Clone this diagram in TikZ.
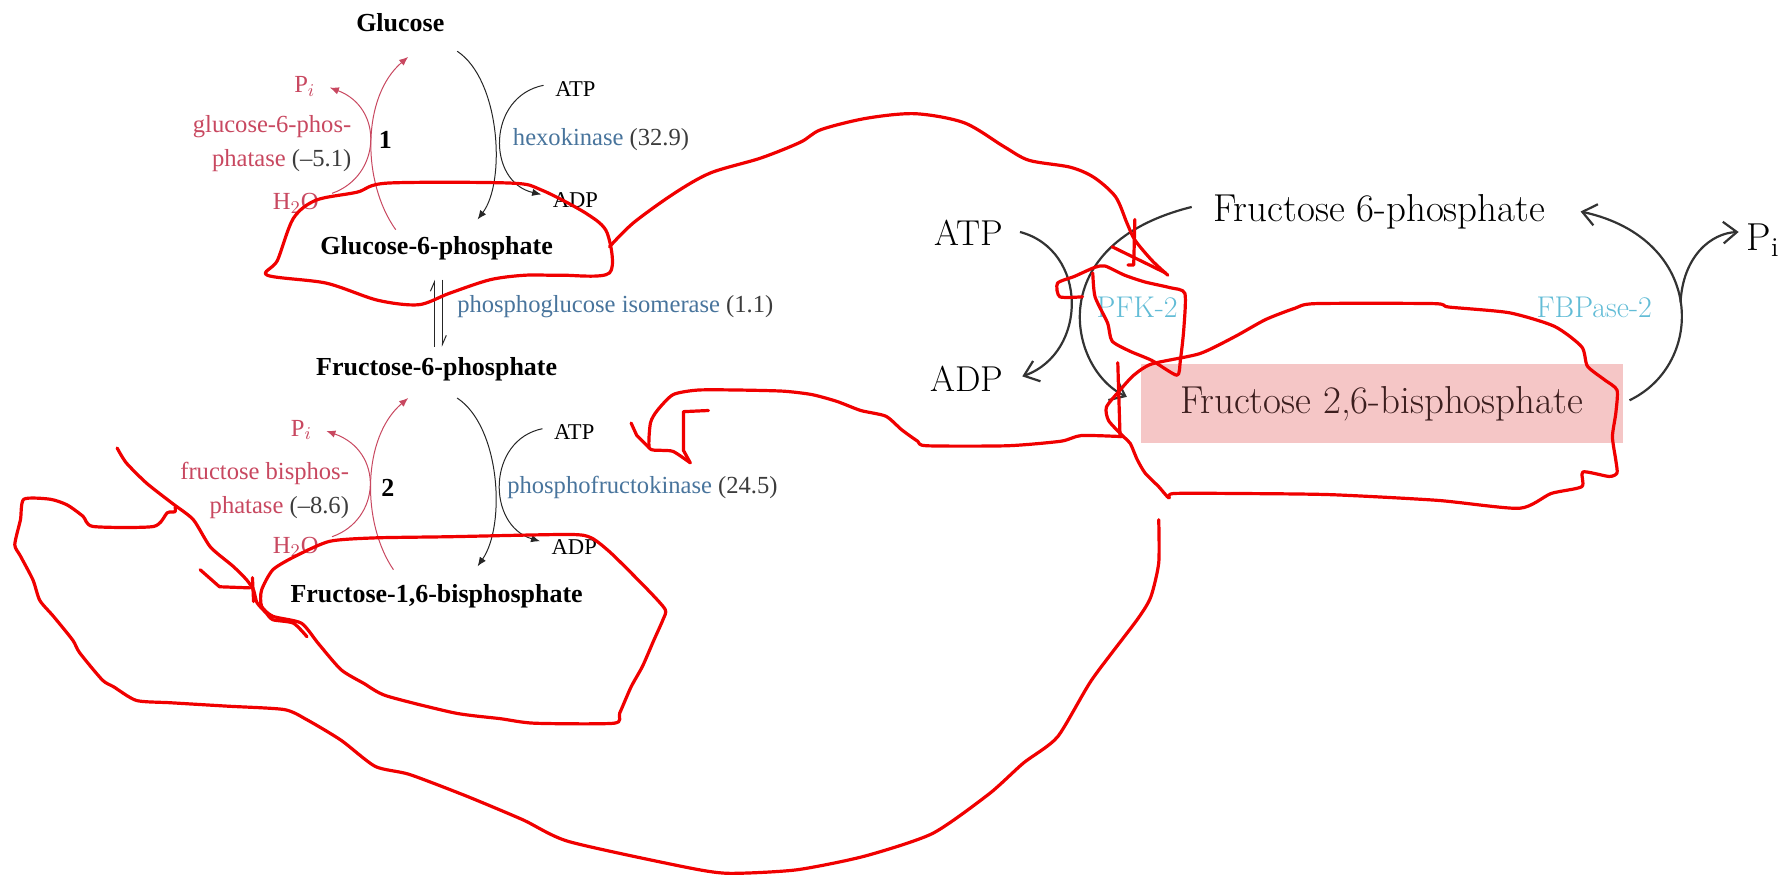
\documentclass[tikz,border=0pt]{standalone}
\usepackage{fontspec}
\newfontfamily\lftfont[Ligatures=TeX]{Liberation Serif}
\usetikzlibrary{arrows.meta,calc}
\definecolor{redtxt}{RGB}{200,72,96}
\definecolor{bluetxt}{RGB}{72,116,156}
\definecolor{numgray}{RGB}{60,60,60}
\definecolor{enzcyan}{RGB}{98,188,214}
\definecolor{boxpink}{RGB}{245,198,198}
\definecolor{boxtxt}{RGB}{60,30,30}
\definecolor{scrib}{RGB}{240,0,0}
\begin{document}
\begin{tikzpicture}[x=0.2mm,y=-0.2mm,
   met/.style={font=\lftfont\fontsize{13}{15}\selectfont\bfseries, inner sep=1pt},
   lbl/.style={font=\lftfont\fontsize{12.3}{17}\selectfont, inner sep=1pt},
   nuc/.style={font=\lftfont\fontsize{11.3}{13}\selectfont, inner sep=1pt},
   bigtxt/.style={font=\fontsize{19.5}{22}\selectfont, inner sep=1pt},
   enz/.style={font=\fontsize{15}{17}\selectfont, text=enzcyan, inner sep=1pt},
   redarr/.style={draw=redtxt, line width=0.5pt, -{Latex[length=1.6mm,width=1.3mm]}},
   blkarr/.style={draw=black!85, line width=0.5pt, -{Latex[length=1.6mm,width=1.3mm]}},
   barb/.style={draw=black!80, line width=1.1pt, -{Straight Barb[length=2.4mm,width=3.8mm]}},
   scribble/.style={draw=scrib, line width=1.6pt, line join=round, line cap=round}]

   \useasboundingbox (0,0) rectangle (1568,770);

   \node[met] (glc) at (352,20) {Glucose};
   \node[met] (g6p) at (384,218) {Glucose-6-phosphate};
   \node[met] (f6p) at (384,325) {Fructose-6-phosphate};
   \node[met] (fbp) at (384,524) {Fructose-1,6-bisphosphate};

   \node[lbl,text=redtxt] (pi1) at (268,76) {P$_i$};
   \node[lbl,text=redtxt,align=right,anchor=east] (gpase) at (311,126) {glucose-6-phos-\\phatase \textcolor{numgray}{(–5.1)}};
   \node[lbl,text=redtxt] (h2o1) at (260,179) {H$_2$O};
   \node[met] (n1) at (339,123) {1};
   \node[nuc] (atp1) at (506,78) {ATP};
   \node[nuc] (adp1) at (506,176) {ADP};
   \node[lbl,text=bluetxt,anchor=west] (hexo) at (449,123) {hexokinase \textcolor{numgray}{(32.9)}};
   \node[lbl,text=bluetxt,anchor=west] (isom) at (400,270) {phosphoglucose isomerase \textcolor{numgray}{(1.1)}};

   \node[lbl,text=redtxt] (pi2) at (265,378) {P$_i$};
   \node[lbl,text=redtxt,align=right,anchor=east] (fpase) at (309,431) {fructose bisphos-\\phatase \textcolor{numgray}{(–8.6)}};
   \node[lbl,text=redtxt] (h2o2) at (260,481) {H$_2$O};
   \node[met] (n2) at (341,429) {2};
   \node[nuc] (atp2) at (505,380) {ATP};
   \node[nuc] (adp2) at (505,481) {ADP};
   \node[lbl,text=bluetxt,anchor=west] (pfk) at (444,429) {phosphofructokinase \textcolor{numgray}{(24.5)}};

   \draw[redarr] ($(g6p)+(-36,-16)$) .. controls (318,160) and (318,85) .. ($(glc)+(7,30)$);
   \draw[redarr] ($(h2o1)+(32,-9)$) .. controls (335,155) and (338,95) .. ($(pi1)+(22,1)$);
   \draw[blkarr] ($(glc)+(50,25)$) .. controls (440,70) and (445,160) .. ($(g6p)+(36,-25)$);
   \draw[blkarr] ($(atp1)+(-28,-3)$) .. controls (428,85) and (428,160) .. ($(adp1)+(-30,-5)$);

   \draw[redarr] ($(fbp)+(-38,-23)$) .. controls (318,460) and (318,385) .. ($(f6p)+(-25,25)$);
   \draw[redarr] ($(h2o2)+(32,-9)$) .. controls (335,457) and (338,397) .. ($(pi2)+(22,1)$);
   \draw[blkarr] ($(f6p)+(18,25)$) .. controls (440,375) and (445,462) .. ($(fbp)+(36,-26)$);
   \draw[blkarr] ($(atp2)+(-28,-3)$) .. controls (428,387) and (428,462) .. ($(adp2)+(-30,-5)$);

   \draw[draw=black!85, line width=0.5pt, -{Straight Barb[left,length=1.6mm,width=1.4mm]}] ($(f6p)+(-2,-20)$) -- ($(g6p)+(-2,28)$);
   \draw[draw=black!85, line width=0.5pt, -{Straight Barb[left,length=1.6mm,width=1.4mm]}] ($(g6p)+(5,28)$) -- ($(f6p)+(5,-20)$);

   \node[font=\fontsize{18}{20}\selectfont, inner sep=1pt] (atpR) at (852,205) {ATP};
   \node[font=\fontsize{18}{20}\selectfont, inner sep=1pt] (adpR) at (850,333) {ADP};
   \node[bigtxt] (f6pR) at (1213,186) {Fructose 6-phosphate};
   \node[bigtxt, anchor=base west] (piR) at (1534,220) {P$_\mathrm{i}$};
   \node[bigtxt, fill=boxpink, text=boxtxt, minimum width=84.8mm, minimum height=13.8mm] (f26) at (1215,355) {Fructose 2,6-bisphosphate};
   \node[enz] (pfk2) at (1000,270) {PFK-2};
   \node[enz] (fbpase2) at (1402,270) {FBPase-2};

   \draw[barb] ($(atpR)+(45,-1)$) .. controls (957,220) and (957,310) .. ($(adpR)+(49,-2)$);
   \draw[barb] ($(f6pR)+(-165,-4)$) .. controls (915,215) and (940,325) .. ($(f26)+(-224,-6)$);
   \draw[barb] ($(f26)+(218,-3)$) .. controls (1500,320) and (1500,210) .. coordinate[pos=0.5] (fbmid) ($(f6pR)+(177,0)$);
   \draw[barb] (fbmid) .. controls (1480,225) and (1505,205) .. ($(piR.base west)+(-5,-16)$);

   \draw[scribble] plot[smooth cycle, tension=0.5] coordinates {(235,242) (244,229) (258,192) (278,176) (314,169) (341,161) (449,161) (476,167) (516,188) (534,205) (536,240) (493,242) (462,242) (431,246) (395,258) (368,268) (332,264) (287,249)};
   \draw[scribble] plot[smooth, tension=0.5] coordinates {(536,217) (557,196) (593,170) (625,152) (669,139) (704,125) (722,114) (762,104) (805,100) (848,108) (883,129) (905,141) (941,147) (962,156) (981,173) (991,196) (998,211) (1013,229) (1027,242)};
   \draw[scribble] (998,193) -- (997,233) -- (992,233);
   \draw[scribble] (978,217) -- (1025,240);
   \draw[scribble] plot[smooth, tension=0.4] coordinates {(952,261) (932,261) (930,249) (945,243) (963,235) (972,234) (989,242) (1007,248) (1029,253) (1042,258) (1041,290) (1038,317) (1035,330) (1013,317) (994,309) (978,300) (974,284) (963,261) (961,240)};
   \draw[scribble] plot[smooth cycle, tension=0.4] coordinates {(1013,320) (1055,311) (1086,296) (1113,281) (1139,271) (1157,267) (1261,267) (1274,270) (1327,275) (1367,287) (1391,305) (1396,322) (1411,334) (1422,343) (1421,363) (1418,384) (1421,405) (1422,416) (1415,419) (1392,415) (1391,428) (1364,434) (1336,447) (1264,440) (1170,435) (1091,434) (1032,434) (1028,438) (1019,428) (1007,416) (1000,404) (994,390) (988,384) (975,370) (973,358) (985,343) (997,330)};
   \draw[scribble] plot[smooth, tension=0.4] coordinates {(988,384) (951,383) (933,388) (886,392) (815,392) (807,388) (793,378) (779,366) (757,361) (736,353) (714,347) (689,344) (650,343) (614,343) (592,347) (578,361) (572,372) (571,394) (581,396) (592,397) (607,407)};
   \draw[scribble] (555,372) -- (560,383) -- (571,394);
   \draw[scribble] (623,361) -- (601,362) -- (601,396) -- (607,407);
   \draw[scribble] (983,319) -- (985,384);
   \draw[scribble] plot[smooth, tension=0.4] coordinates {(1019,457) (1019,495) (1012,525) (1000,545) (960,598) (930,648) (900,671) (870,698) (820,733) (760,753) (700,765) (640,768) (600,762) (500,740) (460,721) (410,700) (360,681) (330,674) (300,651) (270,633) (250,624) (200,621) (150,618) (120,616) (100,604) (90,598) (70,574) (64,563) (47,542) (35,528) (29,510) (18,489) (13,479) (18,457) (21,439) (44,439) (59,444) (73,454) (82,463) (135,463) (147,451) (154,450) (154,446)};
   \draw[scribble] plot[smooth, tension=0.4] coordinates {(103,394) (111,407) (129,425) (152,443) (170,457) (185,481) (205,498) (217,510) (223,519) (226,530) (234,539) (240,545) (258,548) (270,560)};
   \draw[scribble] (176,501) -- (193,516) -- (220,517);
   \draw[scribble] (222,508) -- (223,529);
   \draw[scribble] plot[smooth cycle, tension=0.4] coordinates {(260,489) (290,476) (330,473) (395,472) (500,470) (520,473) (538,487) (570,519) (585,536) (583,545) (575,563) (565,586) (555,604) (545,627) (540,636) (470,636) (440,632) (400,627) (340,612) (320,601) (300,589) (280,566) (265,548) (240,542) (230,533) (230,519) (240,501)};

\end{tikzpicture}
\end{document}
